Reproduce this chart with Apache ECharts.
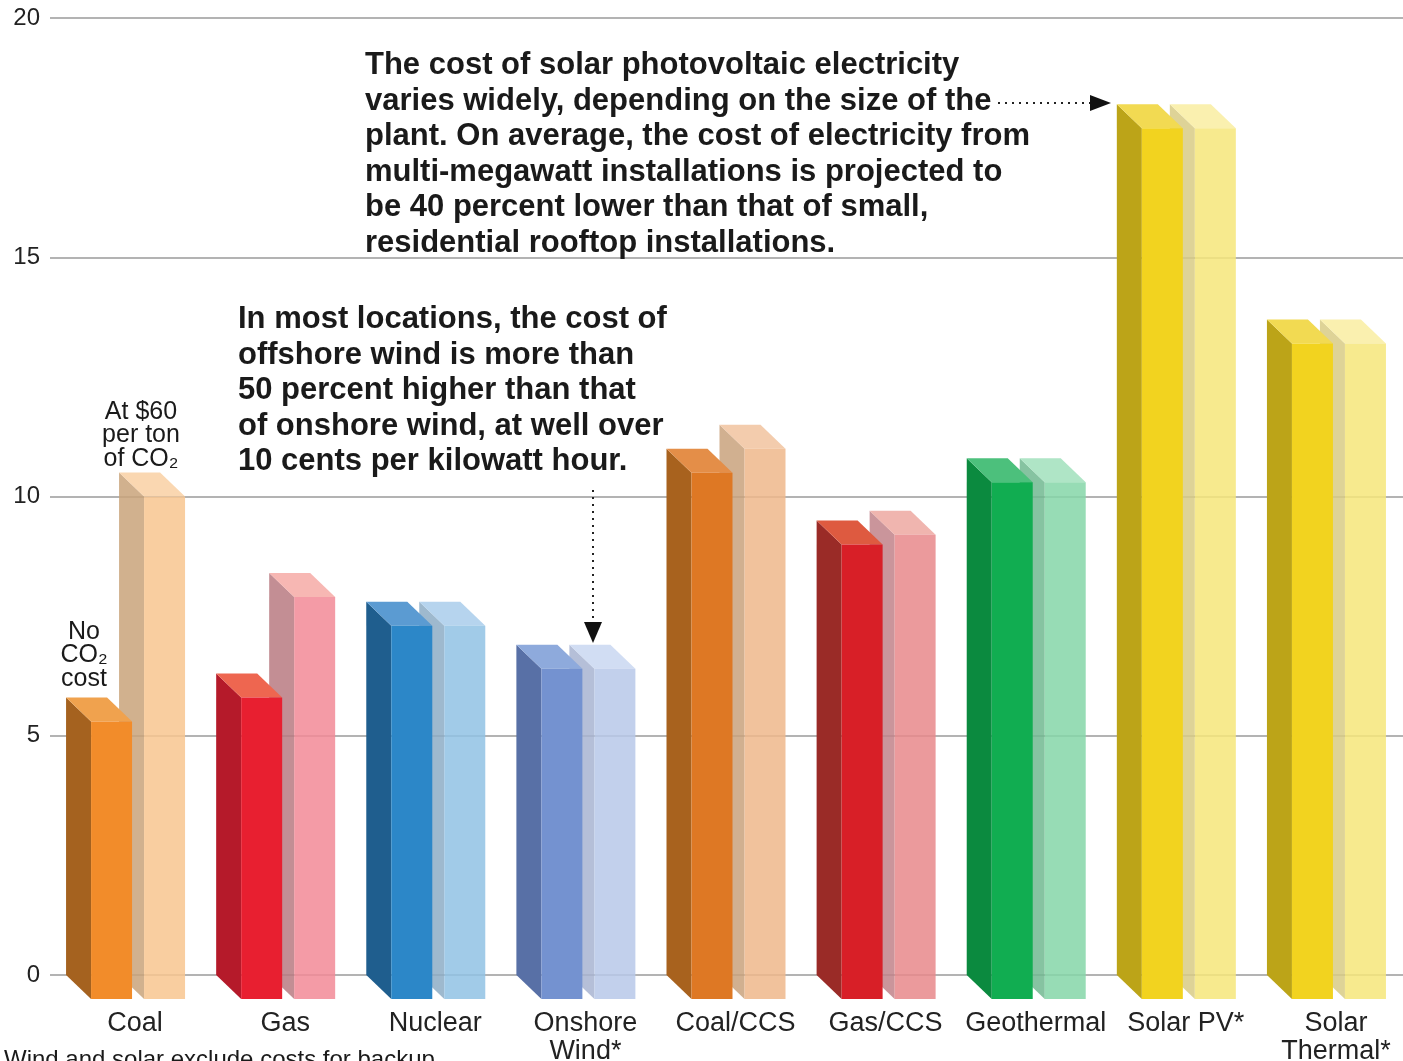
<!DOCTYPE html>
<html><head><meta charset="utf-8">
<script src="https://cdn.jsdelivr.net/npm/echarts@6/dist/echarts.min.js"></script>
<style>html,body{margin:0;padding:0;background:#fff;}#c{width:1403px;height:1061px;}</style>
</head><body><div id="c"></div>
<script>
const categories = ['Coal','Gas','Nuclear','Onshore\nWind*','Coal/CCS','Gas/CCS','Geothermal','Solar PV*','Solar\nThermal*'];
const baseCost = [5.8, 6.3, 7.8, 6.9, 11.0, 9.5, 10.8, 18.2, 13.7];
const altCost  = [10.5, 8.4, 7.8, 6.9, 11.5, 9.7, 10.8, 18.2, 13.7];
const yTicks = [0, 5, 10, 15, 20];

// [side, front, top]
const colorsA = [
  ['#a5621f','#f28c2a','#f0a24e'],
  ['#b51a2a','#e81f30','#ee6650'],
  ['#1f5e8e','#2c87c8','#5b9bd2'],
  ['#5870a6','#7492d0','#8eaadc'],
  ['#a8621e','#de7824','#e48e48'],
  ['#9a2b27','#d81f27','#de5a40'],
  ['#0b8a3f','#11ad51','#4cc07c'],
  ['#bca418','#f2d31f','#f2da52'],
  ['#bca418','#f2d31f','#f2da52']
];
const colorsB = [
  ['#c9a47c','#f8c690','#f9d0a4'],
  ['#b97c82','#f28b97','#f6aba6'],
  ['#8eaec6','#92c2e4','#aacdeb'],
  ['#a9b5d2','#b8c8e9','#cad7f1'],
  ['#c9a37e','#efb88c','#f1c49f'],
  ['#c1848a','#e8898c','#eea9a2'],
  ['#72b992','#86d6a9','#a2e1bd'],
  ['#d8cc86','#f6e77c','#f9eda2'],
  ['#d8cc86','#f6e77c','#f9eda2']
];

function makeRender(colors, frontL, frontR, opacity) {
  return function (params, api) {
    const i = api.value(0), v = api.value(1);
    const topPt = api.coord([i, v]);
    const basePt = api.coord([i, 0]);
    const c = topPt[0];
    const dx = 25, dy = 24;
    const fl = c + frontL, fr = c + frontR;
    const bl = fl - dx, br = fr - dx;
    const bt = topPt[1], bb = basePt[1];
    const ft = bt + dy, fb = bb + dy;
    const col = colors[i];
    return {
      type: 'group',
      children: [
        {type: 'polygon', shape: {points: [[bl, bt], [fl, ft], [fl, fb], [bl, bb]]}, style: {fill: col[0], opacity: opacity}},
        {type: 'polygon', shape: {points: [[bl, bt], [br, bt], [fr, ft], [fl, ft]]}, style: {fill: col[2], opacity: opacity}},
        {type: 'rect', shape: {x: fl, y: ft, width: fr - fl, height: fb - ft}, style: {fill: col[1], opacity: opacity}}
      ]
    };
  };
}

const chart = echarts.init(document.getElementById('c'), null, {renderer: 'canvas'});
const txtColor = '#1a1a1a';
const annFont = {fontFamily: 'Liberation Sans, Arial, sans-serif', fontWeight: 'bold', fontSize: 31, lineHeight: 35.5, fill: txtColor};
const smallFont = {fontFamily: 'Liberation Sans, Arial, sans-serif', fontSize: 25, lineHeight: 23.5, fill: txtColor, textAlign: 'center'};

chart.setOption({
  animation: false,
  backgroundColor: '#fff',
  grid: [
    {left: 50, right: 0, top: 18, bottom: 86, outerBoundsMode: 'none', containLabel: false},
    {left: 60, width: 1351, top: 18, bottom: 86, outerBoundsMode: 'none', containLabel: false}
  ],
  xAxis: [
    {gridIndex: 0, type: 'value', min: 0, max: 1, show: false},
    {gridIndex: 1, type: 'category', data: categories,
     axisLine: {show: false}, axisTick: {show: false},
     axisLabel: {interval: 0, margin: 35, fontSize: 27, lineHeight: 28, color: '#222', fontFamily: 'Liberation Sans, Arial, sans-serif'}}
  ],
  yAxis: [
    {gridIndex: 0, type: 'value', min: yTicks[0], max: yTicks[yTicks.length - 1], interval: yTicks[1] - yTicks[0],
     axisLine: {show: false}, axisTick: {show: false},
     axisLabel: {margin: 10, fontSize: 24, color: '#222', fontFamily: 'Liberation Sans, Arial, sans-serif'},
     splitLine: {lineStyle: {color: '#9a9a9a', width: 1.5}}},
    {gridIndex: 1, type: 'value', min: yTicks[0], max: yTicks[yTicks.length - 1], interval: yTicks[1] - yTicks[0], show: false,
     splitLine: {show: false}}
  ],
  series: [
    {type: 'custom', name: 'At $60 per ton of CO2', xAxisIndex: 1, yAxisIndex: 1, z: 2,
     renderItem: makeRender(colorsB, 9, 50, 0.86),
     encode: {x: 0, y: 1},
     data: altCost.map((v, i) => [i, v])},
    {type: 'custom', name: 'No CO2 cost', xAxisIndex: 1, yAxisIndex: 1, z: 3,
     renderItem: makeRender(colorsA, -44, -3, 1),
     encode: {x: 0, y: 1},
     data: baseCost.map((v, i) => [i, v])}
  ],
  graphic: [
    {type: 'text', left: 365, top: 48, z: 10, style: Object.assign({}, annFont, {text:
      'The cost of solar photovoltaic electricity\nvaries widely, depending on the size of the\nplant. On average, the cost of electricity from\nmulti-megawatt installations is projected to\nbe 40 percent lower than that of small,\nresidential rooftop installations.'})},
    {type: 'text', left: 238, top: 302, z: 10, style: Object.assign({}, annFont, {text:
      'In most locations, the cost of\noffshore wind is more than\n50 percent higher than that\nof onshore wind, at well over\n10 cents per kilowatt hour.'})},
    {type: 'text', x: 141, y: 400, z: 10, style: Object.assign({}, smallFont, {text: 'At $60\nper ton\nof CO₂'})},
    {type: 'text', x: 84, y: 620, z: 10, style: Object.assign({}, smallFont, {text: 'No\nCO₂\ncost'})},
    {type: 'polyline', z: 10, shape: {points: [[998, 103], [1092, 103]]}, style: {stroke: '#222', lineWidth: 2, lineDash: [2, 5]}},
    {type: 'polygon', z: 10, shape: {points: [[1090, 95], [1111, 103], [1090, 111]]}, style: {fill: '#111'}},
    {type: 'polyline', z: 10, shape: {points: [[593, 490], [593, 624]]}, style: {stroke: '#222', lineWidth: 2, lineDash: [2, 5]}},
    {type: 'polygon', z: 10, shape: {points: [[584, 622], [593, 643], [602, 622]]}, style: {fill: '#111'}},
    {type: 'text', left: 4, top: 1048, z: 10, style: {text: 'Wind and solar exclude costs for backup', fontFamily: 'Liberation Sans, Arial, sans-serif', fontSize: 24, fill: txtColor}}
  ]
});
</script>
</body></html>
